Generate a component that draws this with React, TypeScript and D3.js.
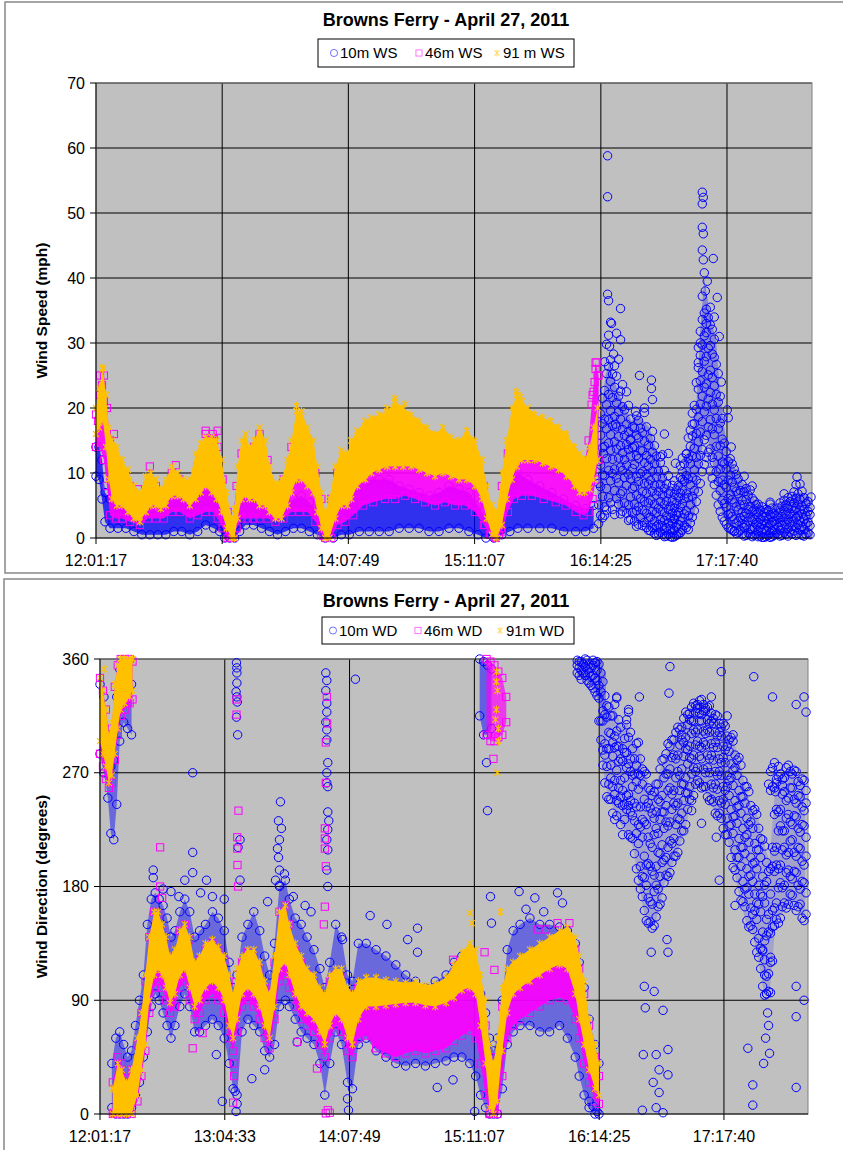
import * as d3 from 'd3'

type Band = [number, number, number][]
type Pts = [number, number][]
type Cols = number[][] // [time, value, value, ...] read down one column of the cloud

// time is in minutes after 12:01:17
const timeTicks = [0, 63.27, 126.53, 189.83, 253.13, 316.38]
const timeLabels = ['12:01:17', '13:04:33', '14:07:49', '15:11:07', '16:14:25', '17:17:40']
const timeEnd = 359

const speedTicks = [0, 10, 20, 30, 40, 50, 60, 70]
const dirTicks = [0, 90, 180, 270, 360]
const speedLegend = ['10m WS', '46m WS', '91 m WS']
const dirLegend = ['10m WD', '46m WD', '91m WD']

// ---- wind speed (mph): bands are [time, low, high] of the dense clouds ----
const ws91Band: Band = [
  [0, 16, 20], [1.5, 17, 23], [3.5, 18, 26], [5, 14, 22], [6.5, 9, 17], [8, 6, 15], [10.5, 5, 14], [13, 5, 12],
  [16, 4, 10.5], [19, 3, 8], [22, 2.5, 7], [25, 4, 9.5], [27.5, 5, 10], [30, 5, 9], [32.5, 4.5, 7.5], [35, 5, 9],
  [38, 6.5, 11], [41, 6.5, 10], [44, 6, 9], [47, 5, 9], [50, 6, 13], [52.5, 7, 14.5], [55, 8, 15.5], [58, 7, 15.5],
  [60.5, 6, 15], [63, 4, 12], [65.5, 1.5, 7], [68, 0, 3], [69.5, 0, 4.5], [71, 3, 11], [73, 6, 15], [75, 6.5, 16],
  [77, 6, 14], [79.5, 6, 15], [82, 5, 17], [85, 5, 15], [87, 4, 11], [90, 3, 8.5], [93, 3, 9], [96, 5, 12],
  [98, 7, 15], [100.5, 9, 19.5], [103, 9, 19.5], [106, 8, 17], [109, 7, 15], [111, 4, 11], [113, 1.5, 7], [115, 0, 4],
  [117, 0, 6], [120, 3, 11], [123, 5, 13.5], [126, 5, 13], [128, 6, 15], [131, 8, 16.5], [135, 9, 18], [138, 10, 18.5],
  [142, 10.5, 19], [146, 11, 19.5], [150, 11, 21], [154, 11, 20], [158, 11, 19], [162, 10.5, 18], [166, 10, 17],
  [170, 9.5, 16], [174, 10, 17], [178, 9.5, 15.5], [182, 9, 15], [186, 9, 16.5], [190, 8, 15], [193.5, 6, 12],
  [196, 3, 8], [198.5, 0.5, 5], [201, 0, 4], [203.5, 2, 10], [206, 6, 15], [208.5, 9, 20], [211, 11, 22],
  [213.5, 12, 21], [216.5, 12, 20], [220, 12, 19], [224, 11.5, 18.5], [228, 11, 18], [232, 10.5, 17], [236, 9.5, 16],
  [240, 8, 14], [242.5, 7, 13], [245, 7, 12], [247.5, 7.5, 14], [249.5, 9, 17], [251.5, 12, 20],
]
const ws91Extra: Pts = [[150, 21.5], [211, 22.5], [3.5, 26.2], [100.5, 20.3], [155, 20.6], [146, 20], [213, 21.8]]

const ws46Band: Band = [
  [0, 14, 19], [2, 14, 22], [4, 12, 25], [5.5, 8, 20], [7, 3.5, 15], [10, 3, 12], [13, 3, 10], [17, 2.5, 8],
  [22, 2, 6], [26, 3, 8], [30, 3, 8], [34, 3, 7], [38, 4, 10], [42, 4, 9], [47, 3, 8], [51, 3.5, 11], [55, 4, 16],
  [58.5, 4, 16], [61, 3, 14], [63.5, 1.5, 9], [66, 0, 4], [68.5, 0, 2.5], [70.5, 1.5, 8], [73, 3, 13], [76, 3, 13],
  [79, 3, 14], [82, 3, 16], [86, 3, 12], [90, 2.5, 7], [94, 3, 9], [98, 4, 14], [102, 4, 17], [106, 4, 15],
  [110, 2.5, 10], [113, 0.5, 6], [115, 0, 3], [118, 0, 6], [121, 2, 10], [125, 2.5, 11], [129, 3.5, 13], [134, 5, 15],
  [139, 5.5, 16], [145, 6, 17], [150, 6, 18], [155, 6.5, 17], [160, 6, 16], [165, 5.5, 15], [170, 5, 14],
  [175, 5.5, 14], [180, 5, 13], [185, 5, 14], [190, 4, 12], [194.5, 2, 8], [197.5, 0.5, 4], [200.5, 0, 3],
  [203.5, 1, 8], [206.5, 4, 13], [209.5, 6, 17], [213.5, 6.5, 18], [218.5, 6.5, 17], [224.5, 6, 16], [230.5, 5.5, 15],
  [235.5, 5, 14], [240.5, 4, 12], [244.5, 3.5, 11], [247, 4, 15], [249, 6, 22], [250.5, 9, 27], [252, 12, 25],
]
const ws46Extra: Pts = [
  [2, 25], [55, 16.5], [27, 11], [40, 11.2], [61, 16.5], [59, 15.2], [1, 18], [3, 23.5], [4, 21], [9, 16], [21, 7.5],
  [251, 27], [250.5, 26], [251.5, 25], [250, 24], [249.5, 22.5], [248.5, 20.5], [114, 0.3], [116, 0.5], [198, 0.5],
  [200, 0.2], [202, 0.5], [67, 0.3], [69, 0.5], [203, 1.5], [131, 12.5], [190, 12], [195, 2],
]

const ws10Band: Band = [
  [0, 9.5, 14], [1.5, 9, 14], [3, 6, 12], [4.5, 2.5, 7], [7, 1.5, 6], [11, 1.5, 5], [15, 1.5, 4.5], [19, 1, 4.5],
  [23, 0.5, 4], [27, 0.5, 4.5], [31, 0.5, 4], [35, 0.5, 5], [39, 1, 6], [43, 1, 6], [47, 0.5, 5], [51, 1, 6.5],
  [55, 2, 7.5], [59, 1.5, 7], [62, 1, 5], [64.5, 0, 3], [67, 0, 1.5], [69.5, 0, 2], [72, 1, 5.5], [75, 2, 7],
  [79, 2, 7], [83, 1.5, 6.5], [87, 1, 5], [91, 0.5, 4], [95, 1, 5], [99, 1.5, 6], [103, 1.5, 6.5], [107, 1, 5.5],
  [111, 0.5, 4], [115, 0, 2], [119, 0, 3.5], [123, 0.5, 5], [127, 0.5, 7], [132, 1, 8], [137, 1, 9], [142, 1, 9],
  [147, 1, 9], [152, 1.5, 8], [157, 1.5, 7.5], [162, 1.5, 7], [167, 1, 6.5], [172, 1, 7], [177, 1.5, 8],
  [182, 1.5, 7.5], [187, 1, 7], [191.5, 0.5, 5], [195.5, 0, 3], [199.5, 0, 2], [203.5, 0.5, 4], [207.5, 1, 8],
  [211.5, 1.5, 10], [216.5, 1.5, 9], [222.5, 1.5, 8], [228.5, 1.5, 7], [234.5, 1, 6], [240.5, 1, 5], [245.5, 1, 4.5],
  [249.5, 1.5, 5],
]
// after 16:14 only the 10 m sensor reports: outline of the cloud, then columns of circles
const ws10LateBand: Band = [
  [251.5, 2, 8], [253.5, 4, 20], [255.5, 5, 25], [257.5, 5, 27], [260, 6, 24], [262.5, 4, 22], [265.5, 4, 20],
  [268.5, 3, 18], [271.5, 2.5, 19], [274.5, 2, 18], [277.5, 1, 17], [280.5, 0.5, 14], [283.5, 0.5, 11], [286.5, 0, 8],
  [289.5, 0, 7], [292.5, 0, 9], [295.5, 1, 12], [298.5, 2, 15], [301, 5, 20], [303, 12, 32], [305, 16, 40],
  [307, 15, 36], [309, 12, 33], [311, 8, 30], [313, 5, 22], [315, 3, 17], [317, 2, 13], [320, 1.5, 11], [323, 1, 9],
  [326, 0.5, 8], [330, 0.5, 6], [334, 0, 5], [338, 0, 4.5], [342, 0.5, 5], [346, 0.5, 6], [350, 1, 7], [354, 0.5, 7],
  [358, 0.5, 6],
]
const ws10Late: Cols = [
  [252, 2.2, 5.1, 8.4, 11.8], [254, 3.1, 6.4, 9.7, 13.9, 17.6, 21.5], [256, 4.3, 7.6, 12.2, 16.8, 20.5, 25.3, 29.8],
  [258, 5.4, 8.8, 13.5, 15.9, 19.6, 24.1, 27.4, 33.2], [260, 3.6, 7.3, 10.6, 14.8, 18.7, 23.2, 26.5],
  [262, 5.2, 8.5, 12.3, 15.6, 19.4, 21.8], [264, 4.1, 7.2, 10.4, 13.1, 16.7, 20.2, 23.6],
  [266, 3.8, 8.1, 11.2, 14.4, 17.5], [268, 2.9, 6.3, 9.1, 12.6, 15.2, 18.3], [270, 2.6, 5.2, 7.9, 11.3, 14.1, 16.9],
  [272, 2.1, 4.8, 8.7, 12.2, 15.4, 18.1], [274, 1.9, 4.3, 7.1, 10.2, 13.4, 16.2], [276, 1.6, 3.8, 6.9, 9.8, 12.7, 17.1],
  [278, 1.1, 3.2, 5.8, 8.9, 12.1, 15.3], [280, 0.7, 2.6, 5.2, 8.1, 11.4, 14.2], [282, 0.6, 2.1, 4.6, 7.2, 10.3],
  [284, 0.5, 1.9, 4.1, 6.6, 9.2, 12.8], [286, 0.3, 1.6, 3.4, 5.7, 8.3], [288, 0.2, 1.4, 3.1, 4.9, 7.2],
  [290, 0.2, 1.2, 2.8, 4.6, 6.7, 8.8], [292, 0.6, 2.1, 3.9, 6.2, 8.1], [294, 1.2, 3.1, 5.3, 7.4, 10.2, 12.3],
  [296, 1.6, 4.2, 6.8, 9.6, 12.9], [298, 2.3, 5.1, 8.2, 11.4, 14.1, 16.6], [300, 4.2, 7.3, 10.5, 13.8, 17.6, 20.4],
  [302, 7.1, 11.4, 14.8, 18.6, 22.9, 26.2, 29.3], [304, 10.2, 13.6, 17.9, 21.8, 25.6, 29.7, 33.6, 37.2],
  [306, 12.4, 15.8, 20.3, 23.7, 27.9, 31.6, 35.2], [308, 10.3, 13.7, 18.2, 22.4, 25.8, 29.6, 32.8],
  [310, 8.2, 11.6, 15.9, 19.7, 23.4, 27.8, 30.6], [312, 5.1, 8.7, 12.6, 16.8, 20.9, 25.3],
  [314, 3.2, 5.8, 8.9, 11.7, 15.2, 18.4], [316, 2.1, 4.7, 7.8, 10.6, 13.3], [318, 1.4, 3.8, 6.6, 9.7, 12.2],
  [320, 1.1, 2.9, 5.4, 7.8, 10.6], [322, 0.9, 2.6, 4.3, 6.8, 9.1], [324, 0.6, 2.2, 3.9, 5.8, 8.2],
  [326, 0.4, 1.9, 3.8, 5.9, 7.6], [328, 0.5, 1.4, 3.2, 4.8, 7.4], [330, 0.4, 1.6, 2.9, 4.3, 5.7],
  [332, 0.2, 1.1, 2.4, 3.9, 5.2], [334, 0.1, 0.9, 2.1, 3.4, 4.8], [336, 0.2, 1.2, 2.2, 3.3, 4.4],
  [338, 0.1, 0.8, 2.1, 3.6, 5.2], [340, 0.4, 1.3, 2.6, 3.8], [342, 0.6, 1.7, 3.1, 4.6], [344, 0.4, 1.9, 3.3, 4.9],
  [346, 0.6, 2.1, 3.6, 5.1], [348, 0.9, 2.4, 3.8, 5.6], [350, 1.1, 2.6, 4.2, 5.4, 7.1], [352, 0.7, 2.1, 3.4, 5.2, 6.8],
  [354, 0.4, 1.8, 3.7, 4.9, 7.2], [356, 0.6, 2.2, 3.4, 5.3], [358, 0.5, 1.9, 3.6, 4.7],
]
const ws10LateOdd: Cols = [
  [253, 3.5, 7.9, 11.2, 15.8, 19.1], [255, 4.8, 9.6, 14.1, 18.3, 22.7, 27.1], [257, 6.2, 10.4, 14.6, 18.2, 22.1, 26.4, 31.2],
  [259, 4.4, 9.9, 12.1, 17.3, 21.6, 25.2], [261, 6.1, 9.2, 13.7, 17.1, 20.8, 24.9], [263, 3.7, 6.8, 10.9, 14.2, 18.3, 22.6],
  [265, 5.4, 9.3, 12.1, 15.8, 19.7], [267, 2.7, 5.1, 9.8, 13.6, 16.4, 20.4], [269, 3.9, 7.6, 10.7, 13.9, 17.1],
  [271, 1.8, 4.2, 6.6, 9.4, 12.7, 15.8, 18.8], [273, 3.1, 6.1, 9.9, 13.5, 16.9], [275, 2.4, 5.6, 8.4, 11.6, 14.9, 19.3],
  [277, 1.2, 3.1, 5.4, 8.3, 11.1, 14.3], [279, 1.6, 4.1, 7.2, 10.3, 13.2, 16.4], [281, 0.4, 1.8, 3.9, 6.6, 9.4, 12.6],
  [283, 0.9, 2.8, 5.6, 8.2, 11.6], [285, 0.2, 1.2, 2.7, 5.1, 7.6, 10.4], [287, 0.6, 2.3, 4.4, 6.8, 9.6],
  [289, 0.1, 0.9, 2.2, 3.8, 5.8, 8.1], [291, 0.4, 1.7, 3.5, 5.3, 7.4], [293, 0.8, 2.6, 4.7, 6.9, 9.3, 11.1],
  [295, 1.9, 3.7, 6.1, 8.7, 11.4], [297, 1.3, 3.4, 6.2, 9.1, 12.2, 15.4], [299, 3.2, 6.4, 9.3, 12.6, 15.7, 19.2],
  [301, 5.6, 8.9, 12.4, 16.1, 19.8, 23.9], [303, 8.4, 12.7, 16.3, 20.6, 24.2, 28.1, 31.8],
  [305, 11.3, 15.1, 19.4, 23.2, 27.2, 31.1, 34.6], [307, 13.2, 17.1, 21.4, 25.1, 29.2, 33.9],
  [309, 9.2, 12.4, 16.8, 20.6, 24.7, 28.3, 32.1], [311, 6.6, 10.2, 14.1, 18.4, 22.1, 26.7],
  [313, 4.1, 7.3, 10.6, 14.2, 17.7, 21.8], [315, 2.6, 5.3, 8.2, 11.4, 14.6], [317, 1.6, 3.6, 6.1, 8.9, 11.8],
  [319, 1.2, 3.3, 5.9, 8.6, 11.4], [321, 0.7, 2.3, 4.8, 7.2, 9.8], [323, 1.2, 3.1, 5.1, 7.3],
  [325, 0.3, 1.6, 3.3, 5.1, 7.1], [327, 0.8, 2.6, 4.4, 6.6], [329, 0.2, 1.3, 2.6, 4.1, 6.1], [331, 0.6, 2.1, 3.6, 5.1],
  [333, 0.3, 1.6, 2.9, 4.3], [335, 0.1, 1.4, 2.7, 3.9], [337, 0.4, 1.7, 2.8, 4.2], [339, 0.2, 1.1, 2.4, 3.2, 4.6],
  [341, 0.7, 2.1, 3.4], [343, 0.3, 1.2, 2.4, 3.9, 5.4], [345, 0.9, 2.6, 4.2, 5.8], [347, 0.3, 1.4, 2.9, 4.6, 6.2],
  [349, 0.6, 1.8, 3.3, 4.8, 6.4], [351, 0.4, 1.6, 3.1, 4.6, 6.1, 8.2], [353, 1.2, 2.7, 4.3, 5.9],
  [355, 0.3, 1.3, 2.9, 4.4, 6.2], [357, 0.8, 2.4, 4.1, 5.6],
]
const ws10Extra: Pts = [
  [256.5, 58.8], [256.5, 52.5], [256.5, 37.5], [257, 36.5], [263, 35.3], [258.5, 33], [261, 31.5], [263, 30.5],
  [257.5, 29.5], [259.5, 28.3], [262, 27.5], [272.5, 25], [278.5, 24.3], [278.5, 23], [279, 21.3], [270.5, 19.5],
  [275, 20], [266, 22.5], [285, 16], [287, 13], [290.5, 11.5], [283, 12.5], [296, 13], [299, 17.5], [304, 53.2],
  [304.5, 52.4], [304, 51.4], [304, 47.8], [304.5, 46.8], [304, 44.3], [304.5, 42.8], [309.5, 43], [305, 40.8],
  [306.5, 39.5], [305.5, 38], [311.5, 37], [310, 34], [308, 35.5], [312.5, 31], [306, 33], [303, 30], [302, 27],
  [316.5, 19.7], [317, 18.5], [318.5, 14], [313.5, 24], [351.5, 9.4], [353, 8.3], [358.5, 6.3], [345, 6.8],
  [338, 5.5], [325, 9.5], [329, 8], [254.5, 13], [260.5, 17.5], [268, 15], [290, 3], [255, 3.5], [320, 1], [294, 9],
]

// ---- wind direction (degrees) ----
const wd91Upper: Band = [
  [0, 295, 345], [1.5, 285, 335], [3, 275, 320], [4.5, 262, 300], [6, 268, 310], [7.5, 285, 340], [9, 305, 355],
  [10.5, 320, 360], [12.5, 325, 360], [15, 330, 360], [16.5, 335, 360],
]
const wd91Main: Band = [
  [6.5, 0, 20], [9, 0, 40], [11, 0, 35], [13.5, 0, 25], [16, 0, 35], [19, 15, 60], [21, 35, 80], [23, 55, 110],
  [25, 90, 140], [27.5, 110, 160], [29.5, 115, 160], [31.5, 110, 150], [33.5, 100, 140], [35.5, 88, 125],
  [38, 95, 130], [40.5, 110, 145], [43, 115, 150], [45.5, 100, 140], [48, 85, 120], [50.5, 90, 125],
  [53.5, 100, 135], [57, 105, 138], [60, 100, 132], [63, 90, 125], [65.5, 70, 110], [67.5, 60, 95], [69.5, 75, 115],
  [72, 95, 125], [75, 100, 130], [78, 95, 130], [81, 85, 120], [83.5, 70, 105], [86, 60, 95], [88.5, 85, 125],
  [91, 115, 160], [94, 120, 165], [96, 110, 150], [99, 95, 135], [102, 85, 125], [105, 80, 115], [108.5, 75, 110],
  [111.5, 65, 100], [114, 55, 95], [116.5, 70, 110], [119.5, 80, 115], [122.5, 75, 115], [125.5, 60, 100],
  [128, 55, 95], [131, 75, 105], [135, 85, 108], [140, 85, 108], [145, 86, 106], [150, 87, 105], [155, 88, 104],
  [160, 88, 105], [165, 86, 102], [170, 85, 103], [175.5, 88, 108], [179.5, 92, 118], [183.5, 98, 128],
  [187.5, 100, 135], [190.5, 95, 130], [193, 70, 110], [195.5, 40, 90], [197.5, 5, 55], [199.5, 0, 40],
  [201.5, 10, 60], [204, 50, 100], [206.5, 80, 115], [209.5, 95, 120], [213, 100, 125], [218, 105, 130],
  [223, 110, 135], [228, 115, 140], [233, 118, 145], [237, 115, 148], [241, 95, 140], [243, 75, 125],
  [245.5, 55, 105], [248, 35, 75], [251, 20, 55], [253, 15, 40],
]
const wd91Extra: Pts = [
  [187.5, 159], [188.5, 151], [203, 160], [201, 350], [201.5, 335], [201, 320], [202, 305], [202, 295], [201.5, 270],
  [200.5, 312], [201, 342], [2, 352], [13, 359], [11, 357],
]

const wd46Upper: Band = [
  [0, 285, 345], [1.5, 275, 335], [3, 265, 320], [4.5, 258, 298], [6, 262, 305], [7.5, 280, 338], [9, 300, 355],
  [10.5, 315, 360], [12.5, 320, 360], [15, 325, 360], [16.5, 328, 358],
]
const wd46North: Band = [[196, 300, 360], [198, 295, 358], [200, 295, 355], [202, 298, 350], [204, 300, 345], [206, 310, 330]]
const wd46Main: Band = [
  [6.5, 0, 25], [9, 0, 45], [11, 0, 40], [13.5, 0, 28], [16, 0, 35], [19, 10, 55], [21, 30, 80], [23, 50, 105],
  [25, 80, 140], [27.5, 100, 160], [29.5, 105, 158], [31.5, 100, 145], [33.5, 90, 135], [35.5, 80, 120],
  [38, 85, 125], [40.5, 100, 145], [43, 105, 150], [45.5, 90, 138], [48, 75, 115], [50.5, 80, 122], [53.5, 90, 130],
  [57, 95, 135], [60, 90, 130], [63, 80, 122], [65.5, 60, 105], [67.5, 50, 90], [69.5, 65, 110], [72, 85, 120],
  [75, 90, 128], [78, 85, 125], [81, 75, 115], [83.5, 60, 100], [86, 52, 90], [88.5, 75, 120], [91, 105, 160],
  [94, 110, 165], [96, 100, 150], [99, 85, 130], [102, 75, 120], [105, 70, 110], [108.5, 65, 105], [111.5, 55, 95],
  [114, 45, 90], [116.5, 60, 105], [119.5, 70, 110], [122.5, 65, 108], [125.5, 50, 95], [128, 45, 90],
  [131, 60, 100], [135, 62, 100], [140, 52, 95], [145, 48, 92], [150, 45, 90], [155, 48, 88], [160, 50, 88],
  [165, 48, 86], [170, 50, 88], [175.5, 52, 92], [179.5, 58, 98], [183.5, 62, 105], [187.5, 66, 110],
  [190.5, 60, 105], [193, 40, 90], [195.5, 15, 70], [197.5, 0, 45], [199.5, 0, 30], [201.5, 0, 45], [204, 30, 85],
  [206.5, 60, 100], [209.5, 70, 110], [213, 75, 115], [218, 80, 122], [223, 85, 128], [228, 90, 132],
  [233, 92, 135], [237, 90, 140], [241, 75, 130], [243, 60, 115], [245.5, 40, 95], [248, 25, 70], [251, 10, 45],
  [253, 8, 30],
]
const wd46Extra: Pts = [
  [69.2, 328], [69.2, 316], [70.2, 240], [69.6, 219], [69.6, 210], [69.7, 197], [70, 180], [115, 330], [115.2, 309],
  [114.5, 294], [114.5, 262], [114, 226], [114, 218], [114, 210], [114.5, 196], [30.5, 211], [30.5, 180],
  [31.5, 171], [114, 164], [113.5, 150], [100, 57], [110, 36], [116.5, 1], [179, 122], [195, 128], [200, 114],
  [222, 146], [226, 146], [232, 151], [238, 151], [47, 52], [52, 64], [67.5, 9], [68, 40], [68, 30], [14, 326],
  [199.5, 281], [7, 1], [9, 2], [114.5, 0.5], [115.5, 3], [198, 1], [200, 3],
]

const wd10Upper: Band = [
  [0, 285, 340], [2, 270, 330], [4, 250, 300], [5.5, 222, 275], [7, 217, 280], [8.5, 245, 330], [10, 295, 352],
  [12, 310, 356], [14, 305, 355], [16, 300, 340],
]
const wd10North: Band = [[192.5, 315, 360], [194.5, 300, 358], [196.5, 300, 355], [198.5, 305, 352]]
const wd10Main: Band = [
  [6, 5, 40], [8, 0, 60], [10, 0, 65], [12, 0, 55], [14, 0, 45], [16, 5, 50], [18, 15, 70], [20, 25, 90],
  [22, 45, 110], [24, 65, 150], [26, 85, 170], [28, 95, 175], [30, 90, 170], [32, 80, 165], [34, 70, 155],
  [36, 60, 140], [38, 70, 145], [40.5, 85, 160], [43, 95, 170], [45.5, 85, 160], [48, 65, 140], [50.5, 65, 145],
  [53.5, 70, 150], [57, 75, 160], [60, 70, 155], [63, 60, 145], [65.5, 40, 120], [67.5, 20, 100], [69.5, 15, 110],
  [72, 65, 140], [75, 75, 150], [78, 70, 160], [81, 65, 145], [83.5, 50, 125], [86, 45, 110], [88.5, 55, 135],
  [91, 85, 180], [94, 90, 185], [96, 85, 170], [99, 75, 155], [102, 65, 150], [105, 60, 140], [108.5, 55, 130],
  [111.5, 40, 115], [114, 15, 100], [116.5, 40, 120], [119.5, 65, 150], [122.5, 55, 140], [125.5, 25, 110],
  [128, 20, 105], [131, 55, 135], [135, 60, 135], [140, 50, 130], [145, 45, 125], [150, 40, 118], [155, 38, 110],
  [160, 40, 105], [165, 38, 100], [170, 40, 105], [175.5, 42, 110], [179.5, 45, 120], [183.5, 45, 125],
  [187.5, 40, 120], [190.5, 30, 110], [193, 15, 95], [195.5, 5, 80], [197.5, 0, 60], [199.5, 0, 50],
  [201.5, 0, 60], [204, 20, 90], [206.5, 55, 130], [209.5, 65, 145], [213, 70, 150], [218, 70, 155],
  [223, 65, 150], [228, 65, 150], [233, 70, 148], [237, 60, 145], [241, 45, 135], [243, 30, 120], [245.5, 15, 100],
  [248, 5, 75], [251, 0, 55], [253, 0, 40],
]
const wd10LateNorthBand: Band = [[242, 345, 360], [245, 345, 360], [248, 340, 360], [251, 333, 360], [254, 322, 358], [256.5, 312, 348]]
const wd10LateBand: Band = [
  [253.5, 295, 345], [256, 262, 330], [258.5, 249, 322], [261.5, 236, 320], [264.5, 228, 306], [267.5, 221, 310],
  [270.5, 210, 292], [273.5, 180, 290], [276, 158, 272], [279, 149, 258], [281.5, 150, 258], [284, 166, 273],
  [286.5, 183, 282], [289, 190, 293], [291.5, 203, 300], [294, 212, 305], [297, 226, 316], [300, 248, 322],
  [303, 262, 326], [306, 258, 326], [309, 248, 322], [312, 238, 316], [315, 232, 308], [318, 218, 300],
  [321.5, 193, 294], [324.5, 170, 278], [327.5, 152, 258], [330.5, 145, 242], [333.5, 125, 236], [336.5, 97, 215],
  [339.5, 95, 200], [342.5, 150, 262], [345.5, 158, 268], [348.5, 165, 274], [351.5, 168, 271], [354.5, 162, 265],
  [357.5, 155, 262],
]
const wd10Late: Cols = [
  [242, 349, 355, 359], [244, 344, 351, 358], [246, 347, 354, 360], [248, 341, 349, 356], [250, 337, 347, 355, 359],
  [252, 331, 343, 351, 358], [254, 296, 311, 334, 349], [256, 262, 284, 293, 316, 331], [258, 249, 261, 289, 302, 322],
  [260, 238, 259, 283, 294, 315], [262, 236, 248, 272, 291, 303, 329], [264, 229, 251, 264, 281, 306],
  [266, 233, 245, 266, 286, 297], [268, 221, 244, 253, 277, 298, 318], [270, 218, 236, 259, 268, 289],
  [272, 194, 222, 243, 263, 276, 293], [274, 178, 196, 227, 243, 268, 281], [276, 161, 187, 204, 231, 249, 271],
  [278, 151, 171, 198, 219, 246, 258], [280, 147, 166, 192, 211, 238, 252], [282, 156, 181, 196, 226, 239, 261],
  [284, 166, 188, 206, 233, 247, 273], [286, 183, 201, 226, 239, 266, 281], [288, 188, 211, 228, 256, 269, 293],
  [290, 199, 214, 241, 253, 282, 296], [292, 204, 229, 244, 266, 281, 302], [294, 216, 233, 256, 268, 292, 304],
  [296, 224, 248, 261, 283, 294, 313], [298, 241, 254, 277, 288, 308, 316], [300, 248, 269, 281, 301, 311, 322],
  [302, 261, 271, 292, 302, 318, 323], [304, 262, 283, 291, 311, 317, 327], [306, 259, 273, 294, 303, 319, 324],
  [308, 251, 274, 284, 304, 312, 322], [310, 249, 261, 284, 293, 311, 317], [312, 238, 261, 271, 294, 302, 316],
  [314, 238, 248, 271, 281, 302, 309], [316, 226, 249, 259, 282, 291, 309], [318, 221, 234, 259, 268, 291, 299],
  [320, 203, 229, 241, 266, 277, 298], [322, 193, 209, 236, 248, 274, 284], [324, 176, 203, 218, 244, 256, 282],
  [326, 168, 184, 211, 226, 251, 264], [328, 153, 179, 194, 221, 234, 259], [330, 149, 163, 189, 203, 231, 244],
  [332, 136, 161, 174, 199, 214, 241], [334, 124, 139, 166, 181, 209, 226], [336, 101, 129, 144, 172, 188, 217],
  [338, 95, 109, 141, 154, 184, 199], [340, 96, 124, 143, 174, 194, 256, 271], [342, 149, 163, 192, 208, 237, 258, 278],
  [344, 151, 179, 194, 224, 239, 267], [346, 164, 179, 209, 224, 253, 265], [348, 163, 191, 205, 234, 248, 274],
  [350, 174, 188, 216, 231, 258, 271], [352, 165, 192, 207, 236, 249, 272], [354, 164, 181, 211, 226, 252, 263],
  [356, 155, 184, 200, 229, 243, 265], [358, 158, 175, 204, 219, 246, 256],
]
const wd10LateOdd: Cols = [
  [243, 347, 353, 358], [245, 349, 356], [247, 343, 352, 359], [249, 339, 346, 353], [251, 334, 345, 357],
  [253, 311, 329, 339, 356], [255, 276, 288, 311, 319, 342], [257, 251, 275, 289, 314, 323], [259, 249, 266, 276, 301, 315],
  [261, 233, 253, 264, 290, 299, 324], [263, 246, 258, 279, 291, 312], [265, 221, 244, 256, 279, 289],
  [267, 241, 252, 274, 286, 308], [269, 219, 239, 248, 271, 281, 302], [271, 206, 232, 246, 269, 281],
  [273, 185, 214, 229, 257, 269, 294], [275, 172, 188, 219, 233, 261, 273], [277, 153, 181, 197, 229, 243, 269],
  [279, 152, 168, 196, 214, 242, 256], [281, 149, 176, 189, 221, 234, 255], [283, 164, 178, 207, 222, 249, 261],
  [285, 171, 199, 213, 239, 252, 280], [287, 189, 203, 231, 244, 269, 285], [289, 191, 216, 231, 258, 273, 291],
  [291, 204, 218, 246, 256, 284, 296], [293, 207, 234, 246, 271, 284, 306], [295, 224, 238, 261, 273, 296, 306],
  [297, 229, 254, 266, 289, 298, 318], [299, 249, 259, 282, 291, 312, 317], [301, 252, 274, 284, 304, 311, 325],
  [303, 264, 274, 295, 304, 321, 324], [305, 258, 281, 290, 311, 316, 328], [307, 259, 270, 292, 301, 319, 321],
  [309, 248, 270, 281, 302, 309, 323], [311, 247, 258, 280, 290, 309, 313], [313, 236, 257, 268, 290, 299, 315],
  [315, 234, 246, 268, 278, 299, 306], [317, 221, 245, 256, 278, 288, 307], [319, 215, 228, 252, 264, 287, 296],
  [321, 195, 222, 235, 260, 272, 295], [323, 187, 203, 230, 243, 268, 280], [325, 169, 196, 211, 238, 251, 276],
  [327, 164, 178, 206, 219, 246, 259], [329, 148, 174, 188, 215, 229, 255], [331, 146, 158, 184, 198, 226, 240],
  [333, 128, 154, 167, 194, 209, 237], [335, 115, 131, 160, 174, 203, 218], [337, 94, 122, 137, 167, 181, 212],
  [339, 97, 111, 144, 158, 192, 261], [341, 121, 148, 161, 196, 211, 259, 274], [343, 154, 167, 197, 211, 241, 262],
  [345, 155, 183, 197, 228, 241, 269], [347, 167, 181, 211, 224, 255, 266], [349, 166, 193, 207, 237, 250, 276],
  [351, 173, 186, 217, 229, 258, 269], [353, 161, 191, 204, 235, 246, 271], [355, 166, 178, 210, 223, 251, 260],
  [357, 153, 183, 197, 228, 240, 264],
]
const wd10Extra: Pts = [
  [47, 270], [47, 207], [47, 191], [43, 185], [54, 185], [27, 193], [27, 187], [69.2, 357], [69.4, 353],
  [69.4, 349], [69.4, 341], [69, 334], [69.4, 330], [69.6, 326], [69.2, 314], [69.8, 300], [71, 217], [70, 211],
  [71, 185], [91.5, 247], [90.5, 232], [92, 226], [91, 217], [90, 210], [90.5, 203], [91, 193], [93.5, 190],
  [89, 185], [91, 181], [114.5, 349], [115, 343], [114.5, 335], [115, 325], [115, 318], [114.5, 310], [115, 304],
  [115, 296], [115.5, 278], [115, 270], [115, 262], [115.5, 259], [115.5, 239], [116, 232], [115.5, 225], [115, 217],
  [115.5, 209], [115, 193], [115.5, 180], [129.5, 344], [196, 278], [196.5, 240], [198, 172], [198.5, 151],
  [212.5, 176], [220.5, 171], [232, 175], [234.5, 167], [225, 160], [216, 162], [137, 157], [145.5, 150],
  [161, 147], [156, 138], [161, 128], [107, 160], [123, 138], [179, 27], [171, 21], [100, 57], [59, 47], [77, 28],
  [83.5, 35], [62, 10], [69, 2], [69.5, 8], [68.5, 18], [126, 3], [125.5, 12], [190, 2], [252, 2], [250, 6],
  [248, 10], [32, 178], [36, 176], [40, 172], [51, 175], [57, 172], [63, 170], [85, 168], [98, 172], [104, 165],
  [289, 354], [315, 350], [331.5, 346], [273.5, 330], [288.5, 333], [341, 330], [357, 330], [353, 324], [358, 318],
  [267, 312], [276, 101], [281, 97], [276.5, 84], [285.5, 82], [275.5, 47], [282, 47], [288, 51], [283.5, 35],
  [288, 31], [280.5, 25], [283.5, 17], [275, 3], [282, 5], [285.5, 1], [328.5, 52], [331, 23], [331, 7], [353, 21],
  [353, 77], [357, 90], [353, 101], [314, 185], [312.5, 219], [322, 165], [287.5, 138], [288, 128], [279.5, 128],
  [336, 130], [337, 110], [338, 95], [338.5, 80], [339, 70], [337.5, 60], [339.5, 48], [336.5, 40], [340, 120],
  [343, 265], [344, 275], [342.5, 255], [346, 260], [300, 240], [305, 230], [262, 330], [268, 320], [321, 300],
  [318, 315], [295, 300], [310, 330],
]

const BLUE = '#0000ff'
const MAGENTA = '#ff00ff'
const GOLD = '#ffc000'
const FONT = '"Liberation Sans", Arial, sans-serif'

type Kind = 'circle' | 'square' | 'star'

function marker(kind: Kind, cx: number, cy: number, key: string, s = 1) {
  if (kind === 'circle')
    return <circle key={key} cx={cx} cy={cy} r={4.2 * s} fill="none" stroke={BLUE} strokeWidth={1} />
  if (kind === 'square')
    return <rect key={key} x={cx - 3.6 * s} y={cy - 3.6 * s} width={7.2 * s} height={7.2 * s} fill="none" stroke={MAGENTA} strokeWidth={1} />
  const a = 3 * s
  return (
    <path key={key} fill="none" stroke={GOLD} strokeWidth={1.1}
      d={`M${cx - a},${cy - a}L${cx + a},${cy + a}M${cx - a},${cy + a}L${cx + a},${cy - a}M${cx},${cy - a - 1}L${cx},${cy + a + 1}`} />
  )
}

interface Layer {
  kind: Kind
  color: string
  bands: { data: Band; op: number; edges?: boolean }[]
  cols: Cols
  pts: Pts
}

interface PanelProps {
  frame: [number, number, number, number]
  plot: { l: number; t: number; r: number; b: number }
  yMax: number
  yTicks: number[]
  title: string
  titleY: number
  yTitle: string
  legend: string[]
  legendBox: [number, number, number, number]
  legendX: number[]
  layers: Layer[]
}

function Panel(p: PanelProps) {
  const { plot } = p
  const x = d3.scaleLinear().domain([0, timeEnd]).range([plot.l, plot.r])
  const y = d3.scaleLinear().domain([0, p.yMax]).range([plot.b, plot.t])
  const area = (b: Band) =>
    d3.area<[number, number, number]>().x(d => x(d[0])).y0(d => y(d[1])).y1(d => y(d[2]))(b) ?? ''
  const [lx, ly, lw, lh] = p.legendBox
  const kinds: Kind[] = ['circle', 'square', 'star']
  const midY = (plot.t + plot.b) / 2

  return (
    <g fontFamily={FONT}>
      <rect x={p.frame[0]} y={p.frame[1]} width={p.frame[2]} height={p.frame[3]} fill="#fff" stroke="#888" strokeWidth={1.5} />
      <text x={446} y={p.titleY} textAnchor="middle" fontWeight="bold" fontSize={18}>{p.title}</text>
      <rect x={lx} y={ly} width={lw} height={lh} fill="#fff" stroke="#000" strokeWidth={1} />
      {p.legend.map((s, i) => (
        <g key={s}>
          <g opacity={0.55}>{marker(kinds[i], p.legendX[i], ly + lh / 2, 'lg' + i, 0.85)}</g>
          <text x={p.legendX[i] + 6} y={ly + lh / 2 + 5} fontSize={15}>{s}</text>
        </g>
      ))}

      <rect x={plot.l} y={plot.t} width={plot.r - plot.l} height={plot.b - plot.t} fill="#c0c0c0" />
      {p.yTicks.filter(v => v > 0).map(v => (
        <line key={'h' + v} x1={plot.l} x2={plot.r} y1={y(v)} y2={y(v)} stroke="#000" strokeWidth={1} />
      ))}
      {timeTicks.filter(t => t > 0).map(t => (
        <line key={'v' + t} x1={x(t)} x2={x(t)} y1={plot.t} y2={plot.b} stroke="#000" strokeWidth={1} />
      ))}
      <rect x={plot.l} y={plot.t} width={plot.r - plot.l} height={plot.b - plot.t} fill="none" stroke="#808080" strokeWidth={1} />

      {p.layers.map((L, li) => (
        <g key={'L' + li}>
          {L.bands.map((b, bi) => (
            <g key={'b' + bi}>
              <path d={area(b.data)} fill={L.color} fillOpacity={b.op} />
              {b.edges !== false && b.data.map((d, i) => marker(L.kind, x(d[0]), y(d[1]), `lo${bi}-${i}`))}
              {b.edges !== false && b.data.map((d, i) => marker(L.kind, x(d[0]), y(d[2]), `hi${bi}-${i}`))}
            </g>
          ))}
          {L.cols.map((c, ci) => (
            <g key={'c' + ci}>{c.slice(1).map((v, vi) => marker(L.kind, x(c[0]), y(v), `c${ci}-${vi}`))}</g>
          ))}
          {L.pts.map((d, i) => marker(L.kind, x(d[0]), y(d[1]), 'p' + i))}
        </g>
      ))}

      <line x1={plot.l} x2={plot.l} y1={plot.t} y2={plot.b} stroke="#000" />
      <line x1={plot.l} x2={plot.r} y1={plot.b} y2={plot.b} stroke="#000" />
      {p.yTicks.map(v => (
        <g key={'yt' + v}>
          <line x1={plot.l - 6} x2={plot.l} y1={y(v)} y2={y(v)} stroke="#000" />
          <text x={plot.l - 11} y={y(v) + 5.5} textAnchor="end" fontSize={16}>{v}</text>
        </g>
      ))}
      {timeTicks.map((t, i) => (
        <g key={'xt' + t}>
          <line x1={x(t)} x2={x(t)} y1={plot.b} y2={plot.b + 6} stroke="#000" />
          <text x={x(t)} y={plot.b + 28} textAnchor="middle" fontSize={16}>{timeLabels[i]}</text>
        </g>
      ))}
      <text transform={`translate(47,${midY}) rotate(-90)`} textAnchor="middle" fontWeight="bold" fontSize={15.5}>{p.yTitle}</text>
    </g>
  )
}

export default function App() {
  const speedLayers: Layer[] = [
    {
      kind: 'circle', color: BLUE,
      bands: [{ data: ws10Band, op: 0.75 }, { data: ws10LateBand, op: 0.3, edges: false }],
      cols: [...ws10Late, ...ws10LateOdd],
      pts: ws10Extra,
    },
    { kind: 'square', color: MAGENTA, bands: [{ data: ws46Band, op: 0.9 }], cols: [], pts: ws46Extra },
    { kind: 'star', color: GOLD, bands: [{ data: ws91Band, op: 1 }], cols: [], pts: ws91Extra },
  ]
  const dirLayers: Layer[] = [
    {
      kind: 'circle', color: BLUE,
      bands: [
        { data: wd10Upper, op: 0.45 }, { data: wd10North, op: 0.5 }, { data: wd10Main, op: 0.45 },
        { data: wd10LateNorthBand, op: 0.3, edges: false }, { data: wd10LateBand, op: 0.15, edges: false },
      ],
      cols: [...wd10Late, ...wd10LateOdd],
      pts: wd10Extra,
    },
    {
      kind: 'square', color: MAGENTA,
      bands: [{ data: wd46Upper, op: 0.9 }, { data: wd46North, op: 0.7 }, { data: wd46Main, op: 0.9 }],
      cols: [],
      pts: wd46Extra,
    },
    { kind: 'star', color: GOLD, bands: [{ data: wd91Upper, op: 1 }, { data: wd91Main, op: 1 }], cols: [], pts: wd91Extra },
  ]

  return (
    <svg width={843} height={1150} style={{ position: 'absolute', left: 0, top: 0, background: '#fff' }}>
      <Panel
        frame={[5, 2, 850, 571]}
        plot={{ l: 96, t: 83, r: 812, b: 538 }}
        yMax={70}
        yTicks={speedTicks}
        title="Browns Ferry - April 27, 2011"
        titleY={26}
        yTitle="Wind Speed (mph)"
        legend={speedLegend}
        legendBox={[318, 39, 256, 28]}
        legendX={[334, 419, 497]}
        layers={speedLayers}
      />
      <Panel
        frame={[4, 579, 850, 580]}
        plot={{ l: 100, t: 659, r: 808, b: 1114 }}
        yMax={360}
        yTicks={dirTicks}
        title="Browns Ferry - April 27, 2011"
        titleY={607}
        yTitle="Wind Direction (degrees)"
        legend={dirLegend}
        legendBox={[322, 617, 252, 27]}
        legendX={[333, 418, 500]}
        layers={dirLayers}
      />
    </svg>
  )
}
